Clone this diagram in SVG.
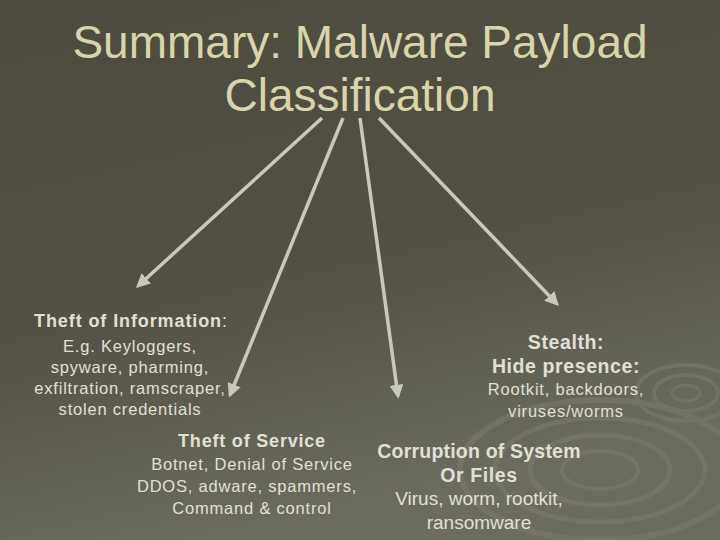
<svg xmlns="http://www.w3.org/2000/svg" width="720" height="540" viewBox="0 0 720 540">
<defs>
<linearGradient id="bg" x1="0" y1="0" x2="0.3" y2="1">
<stop offset="0" stop-color="#4d4b3e"/><stop offset="0.55" stop-color="#515042"/><stop offset="1" stop-color="#6b6b5f"/>
</linearGradient>
<marker id="ah" viewBox="0 0 10 10" refX="8" refY="5" markerWidth="4" markerHeight="4" orient="auto"><path d="M0,0 L10,5 L0,10 z" fill="#c9c8bd"/></marker>
<style>
.t{font-family:"Liberation Sans",Arial,sans-serif;fill:#e2e0d4;text-anchor:middle}
.b{font-weight:bold;font-size:19.5px;letter-spacing:0.6px}
.n{font-size:16.5px;letter-spacing:0.8px}
.c{fill:none;stroke:#7c7c6f;opacity:0.55}
</style>
</defs>
<rect width="720" height="540" fill="url(#bg)"/>
<g class="c">
<ellipse cx="600" cy="470" rx="140" ry="70" stroke-width="6"/>
<ellipse cx="600" cy="470" rx="105" ry="52" stroke-width="5"/>
<ellipse cx="600" cy="470" rx="70" ry="35" stroke-width="5"/>
<ellipse cx="600" cy="470" rx="38" ry="19" stroke-width="4"/>
<ellipse cx="686" cy="393" rx="50" ry="28" stroke-width="4"/>
<ellipse cx="686" cy="393" rx="32" ry="18" stroke-width="4"/>
<ellipse cx="686" cy="393" rx="14" ry="8" stroke-width="3"/>
</g>
<g id="title">
<text class="t" x="360" y="58" font-size="46" style="fill:#d8d4ab">Summary: Malware Payload</text>
<text class="t" x="360" y="111" font-size="46" style="fill:#d8d4ab">Classification</text>
</g>
<g id="connectors" stroke="#c9c8bd" stroke-width="3.5" fill="none" marker-end="url(#ah)">
<line x1="322" y1="118" x2="138" y2="286"/>
<line x1="343" y1="118" x2="230" y2="395"/>
<line x1="360" y1="118" x2="398" y2="396"/>
<line x1="379" y1="118" x2="557" y2="304"/>
</g>
<g id="info">
<text class="t b" x="131" y="327" style="font-size:18px;letter-spacing:0.9px">Theft of Information<tspan font-weight="normal">:</tspan></text>
<text class="t n" x="130" y="352">E.g. Keyloggers,</text>
<text class="t n" x="130" y="373">spyware, pharming,</text>
<text class="t n" x="130" y="394">exfiltration, ramscraper,</text>
<text class="t n" x="130" y="415">stolen credentials</text>
</g>
<g id="stealth">
<text class="t b" x="566" y="349">Stealth:</text>
<text class="t b" x="566" y="373">Hide presence:</text>
<text class="t n" x="566" y="395">Rootkit, backdoors,</text>
<text class="t n" x="566" y="417">viruses/worms</text>
</g>
<g id="service">
<text class="t b" x="252" y="447" style="font-size:18px;letter-spacing:0.8px">Theft of Service</text>
<text class="t n" x="252" y="470">Botnet, Denial of Service</text>
<text class="t n" x="247" y="492">DDOS, adware, spammers,</text>
<text class="t n" x="252" y="514">Command &amp; control</text>
</g>
<g id="corruption">
<text class="t b" x="479" y="458" style="letter-spacing:0.2px">Corruption of System</text>
<text class="t b" x="479" y="482">Or Files</text>
<text class="t" x="479" y="505" font-size="19">Virus, worm, rootkit,</text>
<text class="t" x="479" y="529" font-size="19">ransomware</text>
</g>
</svg>
